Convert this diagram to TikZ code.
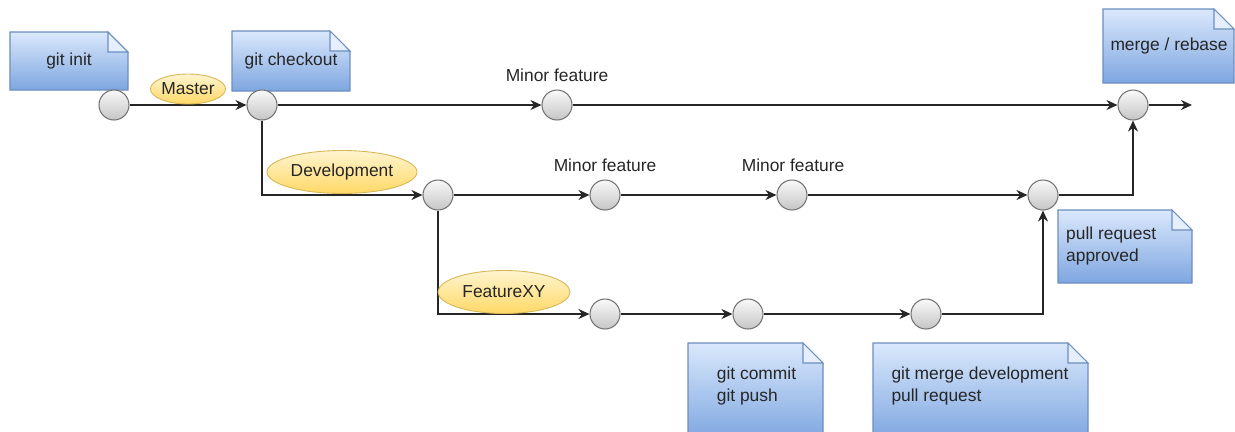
\documentclass[tikz,border=0pt]{standalone}
\usepackage{fontspec}
\setmainfont{Liberation Sans}
\usetikzlibrary{arrows.meta,shapes.geometric}

\definecolor{notetop}{HTML}{DAE8FC}
\definecolor{notebot}{HTML}{7EA6E0}
\definecolor{noteline}{HTML}{6C8EBF}
\definecolor{branchtop}{HTML}{FFF4D0}
\definecolor{branchbot}{HTML}{FFD966}
\definecolor{branchline}{HTML}{D6B656}

\begin{document}
\begin{tikzpicture}[
  every node/.style={font=\fontsize{9.9}{12.5}\selectfont, text=black!85},
  commit/.style={circle, draw=black!55, line width=0.6pt, top color=gray!5,
    bottom color=gray!45, minimum size=0.6cm, inner sep=0pt},
  branch/.style={ellipse, draw=branchline, line width=0.5pt, top color=branchtop,
    bottom color=branchbot, inner sep=0pt},
  note/.style={draw=noteline, line width=0.6pt, top color=notetop, bottom color=notebot},
  notefold/.style={draw=noteline, line width=0.6pt, fill=notetop!70!white},
  flow/.style={line width=1pt, draw=black!85, -{Stealth[length=0.22cm,width=0.2cm]}}
]
  \clip (0,0) rectangle (24.7,-8.62);

  % notes
  \draw[note] (0.2,-0.64) -- (2.16,-0.64) -- (2.56,-1.04) -- (2.56,-1.8) -- (0.2,-1.8) -- cycle;
  \filldraw[notefold] (2.16,-0.64) -- (2.16,-1.04) -- (2.56,-1.04) -- cycle;
  \node (init) at (1.38,-1.22) {git init};

  \draw[note] (4.64,-0.62) -- (6.6,-0.62) -- (7.0,-1.02) -- (7.0,-1.82) -- (4.64,-1.82) -- cycle;
  \filldraw[notefold] (6.6,-0.62) -- (6.6,-1.02) -- (7.0,-1.02) -- cycle;
  \node (checkout) at (5.82,-1.22) {git checkout};

  \draw[note] (22.06,-0.18) -- (24.28,-0.18) -- (24.68,-0.58) -- (24.68,-1.66) -- (22.06,-1.66) -- cycle;
  \filldraw[notefold] (24.28,-0.18) -- (24.28,-0.58) -- (24.68,-0.58) -- cycle;
  \node (rebase) at (23.38,-0.92) {merge / rebase};

  \draw[note] (21.16,-4.2) -- (23.44,-4.2) -- (23.84,-4.6) -- (23.84,-5.66) -- (21.16,-5.66) -- cycle;
  \filldraw[notefold] (23.44,-4.2) -- (23.44,-4.6) -- (23.84,-4.6) -- cycle;
  \node[anchor=west, align=left] (approved) at (21.2,-4.92) {pull request\\approved};

  \draw[note] (13.76,-6.86) -- (16.06,-6.86) -- (16.46,-7.26) -- (16.46,-8.8) -- (13.76,-8.8) -- cycle;
  \filldraw[notefold] (16.06,-6.86) -- (16.06,-7.26) -- (16.46,-7.26) -- cycle;
  \node[align=left] (push) at (15.13,-7.72) {git commit\\git push};

  \draw[note] (17.46,-6.86) -- (21.36,-6.86) -- (21.76,-7.26) -- (21.76,-8.8) -- (17.46,-8.8) -- cycle;
  \filldraw[notefold] (21.36,-6.86) -- (21.36,-7.26) -- (21.76,-7.26) -- cycle;
  \node[align=left] (pullreq) at (19.6,-7.72) {git merge development\\pull request};

  % commits
  \node[commit] (c1) at (2.28,-2.1) {};
  \node[commit] (c2) at (5.24,-2.1) {};
  \node[commit] (c3) at (11.14,-2.1) {};
  \node[commit] (c4) at (22.66,-2.1) {};
  \coordinate (out) at (23.84,-2.1);
  \node[commit] (d1) at (8.76,-3.9) {};
  \node[commit] (d2) at (12.1,-3.9) {};
  \node[commit] (d3) at (15.84,-3.9) {};
  \node[commit] (d4) at (20.86,-3.9) {};
  \node[commit] (f1) at (12.1,-6.28) {};
  \node[commit] (f2) at (14.96,-6.28) {};
  \node[commit] (f3) at (18.52,-6.28) {};

  \node (minor1) at (11.14,-1.5) {Minor feature};
  \node (minor2) at (12.1,-3.3) {Minor feature};
  \node (minor3) at (15.86,-3.3) {Minor feature};

  % connectors
  \draw[flow] (c1) -- (c2);
  \draw[flow] (c2) -- (c3);
  \draw[flow] (c3) -- (c4);
  \draw[flow] (c4) -- (out);
  \draw[flow] (c2) |- (d1);
  \draw[flow] (d1) -- (d2);
  \draw[flow] (d2) -- (d3);
  \draw[flow] (d3) -- (d4);
  \draw[flow] (d4) -| (c4);
  \draw[flow] (d1) |- (f1);
  \draw[flow] (f1) -- (f2);
  \draw[flow] (f2) -- (f3);
  \draw[flow] (f3) -| (d4);

  % branches
  \node[branch, minimum width=1.5cm, minimum height=0.6cm] (master) at (3.76,-1.78) {Master};
  \node[branch, minimum width=3.0cm, minimum height=0.86cm] (develop) at (6.84,-3.44) {Development};
  \node[branch, minimum width=2.64cm, minimum height=0.86cm] (featxy) at (10.08,-5.84) {FeatureXY};
\end{tikzpicture}
\end{document}
